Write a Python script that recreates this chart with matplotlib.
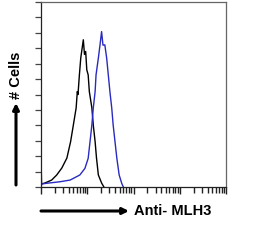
#!/usr/bin/env python3
# flow cytometry overlay: isotype control (black) vs anti-MLH3 (blue)
import numpy as np
import matplotlib
matplotlib.use('Agg')
import matplotlib.pyplot as plt
from matplotlib.ticker import FixedLocator, NullFormatter

OUTPUTFILE = "out.png"

# fluorescence position in decades (log10) and cell counts
control_log = [0.0, 0.0, 0.012, 0.086, 0.23, 0.34, 0.45, 0.56, 0.64, 0.70, 0.76,
               0.785, 0.80, 0.83, 0.86, 0.915, 0.94, 0.966, 0.99, 1.02, 1.045,
               1.10, 1.13, 1.17, 1.20, 1.24, 1.31, 1.36]
control_cnt = [0.0, 2.0, 0.2, 0.26, 0.45, 0.78, 1.23, 1.88, 2.94, 4.03, 5.13,
               6.19, 6.0, 7.27, 8.38, 9.55, 8.6, 8.79, 7.6, 7.27, 6.19,
               5.13, 4.03, 2.94, 1.88, 0.78, 0.26, 0.0]

mlh3_log = [0.0, 0.02, 0.12, 0.41, 0.63, 0.84, 0.95, 1.02, 1.06, 1.10, 1.13,
            1.17, 1.19, 1.24, 1.276, 1.31, 1.34, 1.38, 1.42, 1.455, 1.49, 1.53,
            1.56, 1.60, 1.64, 1.69, 1.745, 1.78]
mlh3_cnt = [0.0, 0.2, 0.24, 0.34, 0.45, 0.78, 1.21, 1.86, 2.94, 4.03, 5.11,
            6.19, 7.27, 8.36, 9.22, 10.08, 9.2, 9.22, 8.36, 7.27, 6.19, 5.11,
            4.03, 2.94, 1.86, 0.78, 0.24, 0.0]

y_ticks = list(range(13))
x_major = [1, 10, 100, 1000, 10000]


def main():
    fig = plt.figure(figsize=(2.55, 2.45), dpi=100)
    ax = fig.add_axes([41/255, 1 - 187/245, 185/255, 185/245])

    ax.plot(10 ** np.array(control_log), control_cnt, color='black', lw=1.0)
    ax.plot(10 ** np.array(mlh3_log), mlh3_cnt, color='#2a2ac0', lw=1.0)

    ax.set_xscale('log')
    ax.set_xlim(1, 1e4)
    ax.set_ylim(0, 12)
    minors = [m * d for d in x_major[:-1] for m in range(2, 10)]
    ax.xaxis.set_major_locator(FixedLocator(x_major))
    ax.xaxis.set_minor_locator(FixedLocator(minors))
    ax.xaxis.set_major_formatter(NullFormatter())
    ax.xaxis.set_minor_formatter(NullFormatter())
    ax.set_yticks(y_ticks)
    ax.set_yticklabels([])
    ax.tick_params(axis='x', which='major', length=5, width=1.0, color='#222222')
    ax.tick_params(axis='x', which='minor', length=4, width=1.0, color='#222222')
    ax.tick_params(axis='y', length=4, width=0.9, color='#444444')

    for side in ('top', 'right'):
        ax.spines[side].set_color('#666666')
    for side in ('left', 'bottom'):
        ax.spines[side].set_color('#222222')
    for sp in ax.spines.values():
        sp.set_linewidth(0.9)

    # axis arrows and labels
    arrow = dict(arrowstyle='-|>', color='black', lw=2.2, mutation_scale=9,
                 shrinkA=0, shrinkB=0)
    ax.annotate('', xy=(16/255, 1 - 103/245), xytext=(16/255, 1 - 185/245),
                xycoords='figure fraction', textcoords='figure fraction',
                arrowprops=arrow)
    ax.annotate('', xy=(129/255, 1 - 211/245), xytext=(41/255, 1 - 211/245),
                xycoords='figure fraction', textcoords='figure fraction',
                arrowprops=arrow)
    fig.text(16/255, 1 - 75/245, '# Cells', rotation=90, ha='center', va='center',
             fontsize=10.5, fontweight='bold', family='Liberation Sans')
    fig.text(134/255, 1 - 211/245, 'Anti- MLH3', ha='left', va='center',
             fontsize=10.5, fontweight='bold', family='Liberation Sans')

    plt.savefig(OUTPUTFILE)
    print("Graph created: " + OUTPUTFILE)


if __name__ == "__main__":
    main()
